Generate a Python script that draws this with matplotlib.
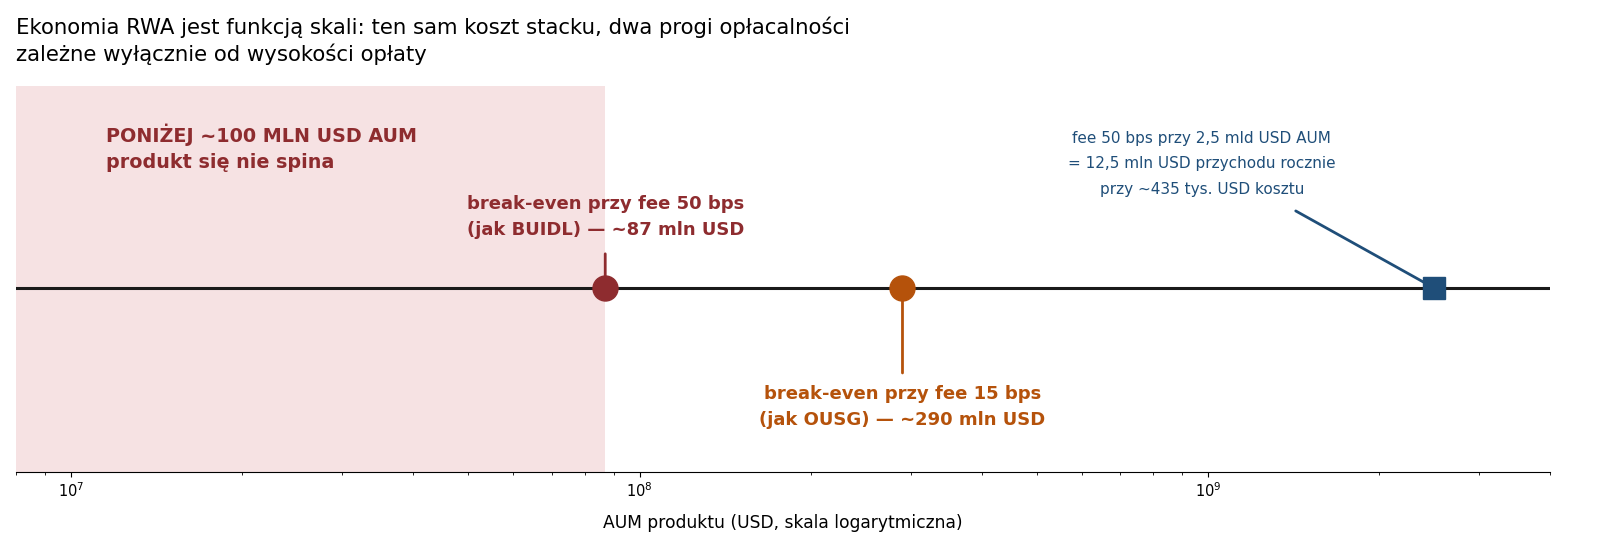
import numpy as np
import matplotlib.pyplot as plt

plt.rcParams['font.family'] = ['DejaVu Sans']

# dane (USD AUM)
prog_50bps = 87e6
prog_15bps = 290e6
przyklad_aum = 2.5e9
granica_strefy = 87e6
zakres_x = [8e6, 4e9]

czerwony = '#8E2C2F'
pomarancz = '#B5520B'
niebieski = '#1F4E79'

fig = plt.figure(figsize=(16, 5.59), dpi=100)
ax = fig.add_axes([0.01, 0.156, 0.959, 0.69])

ax.set_xscale('log')
ax.set_xlim(zakres_x)
ax.set_ylim(-1, 1.1)

ax.axvspan(zakres_x[0], granica_strefy, color='#F6E2E3', lw=0, zorder=0)
ax.axhline(0, color='#1a1a1a', lw=2.2, zorder=2)

ax.plot(prog_50bps, 0, 'o', color=czerwony, ms=18, zorder=4)
ax.plot(prog_15bps, 0, 'o', color=pomarancz, ms=18, zorder=4)
ax.plot(przyklad_aum, 0, 's', color=niebieski, ms=16, zorder=4)

ax.annotate('break-even przy fee 50 bps\n(jak BUIDL) — ~87 mln USD',
            xy=(prog_50bps, 0), xytext=(prog_50bps, 0.27),
            ha='center', va='bottom', fontsize=13, fontweight='bold',
            color=czerwony, linespacing=1.55,
            arrowprops=dict(arrowstyle='-', color=czerwony, lw=2,
                            shrinkA=9, shrinkB=0), zorder=3)

ax.annotate('break-even przy fee 15 bps\n(jak OUSG) — ~290 mln USD',
            xy=(prog_15bps, 0), xytext=(prog_15bps, -0.53),
            ha='center', va='top', fontsize=13, fontweight='bold',
            color=pomarancz, linespacing=1.55,
            arrowprops=dict(arrowstyle='-', color=pomarancz, lw=2,
                            shrinkA=7, shrinkB=0), zorder=3)

ax.annotate('fee 50 bps przy 2,5 mld USD AUM\n= 12,5 mln USD przychodu rocznie\nprzy ~435 tys. USD kosztu',
            xy=(przyklad_aum, 0), xytext=(9.75e8, 0.676),
            ha='center', va='center', fontsize=11, multialignment='center',
            color=niebieski, linespacing=1.85,
            arrowprops=dict(arrowstyle='-', color=niebieski, lw=2,
                            shrinkA=17, shrinkB=0, relpos=(0.755, 0)), zorder=3)

ax.text(1.15e7, 0.763, 'PONIŻEJ ~100 MLN USD AUM\nprodukt się nie spina',
        ha='left', va='center', fontsize=13.8, fontweight='bold',
        color=czerwony, linespacing=1.5)

for s in ['top', 'right', 'left']:
    ax.spines[s].set_visible(False)
ax.set_yticks([])
ax.tick_params(axis='x', labelsize=10.5)
ax.set_xlabel('AUM produktu (USD, skala logarytmiczna)', fontsize=12.3, labelpad=10)

fig.text(0.01, 0.97, 'Ekonomia RWA jest funkcją skali: ten sam koszt stacku, dwa progi opłacalności\nzależne wyłącznie od wysokości opłaty',
         ha='left', va='top', fontsize=15.3, linespacing=1.3)

fig.savefig('out.png', dpi=100)
